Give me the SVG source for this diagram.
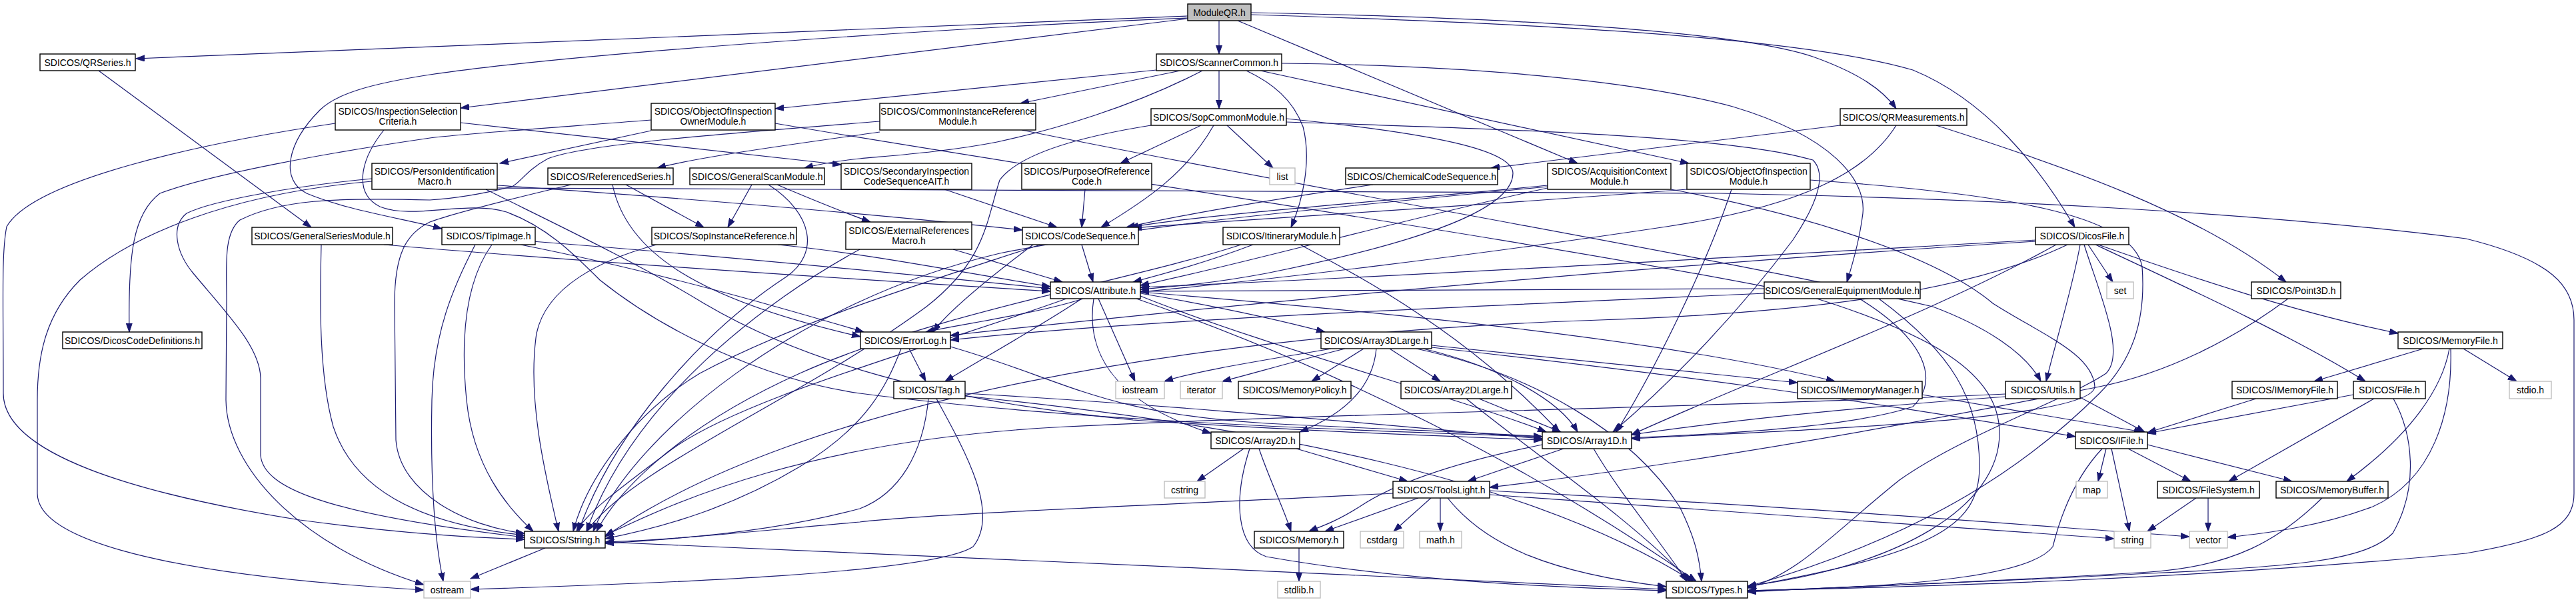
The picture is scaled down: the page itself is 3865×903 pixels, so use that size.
<svg xmlns="http://www.w3.org/2000/svg" width="3865" height="903" viewBox="0 0 3865 903">
<style>
.e path{fill:none;stroke:#191970;stroke-width:1.2;marker-end:url(#a)}
.n rect{fill:#fff;stroke:#000;stroke-width:1.4}
.n.x rect{stroke:#bfbfbf}
.n.r rect{fill:#bfbfbf}
text{font-family:'Liberation Sans Narrow','Liberation Sans',Arial,sans-serif;font-size:14px;text-anchor:middle;fill:#000}
</style>
<defs>
<marker id="a" markerWidth="14" markerHeight="10" refX="13" refY="5" orient="auto" markerUnits="userSpaceOnUse"><path d="M0,0.5 L13,5 L0,9.5 z" fill="#191970" stroke="#191970" stroke-width="1"/></marker>
</defs>
<rect width="3865" height="903" fill="#fff"/>
<g id="edges" class="e">
<path d="M1782,24 L204,88"/>
<path d="M1782,27 C1500,38 900,75 645,112 C560,125 505,140 480,165 C430,215 420,270 460,290 C520,315 600,327 663,343"/>
<path d="M1782,28 L691,162"/>
<path d="M1829,31 L1829,81"/>
<path d="M1857,31 L2367,245"/>
<path d="M1877,19 C2250,26 2600,45 2720,85 C2790,110 2825,135 2845,163"/>
<path d="M1877,22 C2300,35 2700,55 2870,105 C2980,150 3060,250 3113,341"/>
<path d="M148,106 L467,341"/>
<path d="M1735,105 L1163,163"/>
<path d="M1771,106 L1531,155"/>
<path d="M1804,106 C1700,160 1580,195 1496,213 C1420,228 1330,234 1290,238 C1260,241 1230,246 1207,252"/>
<path d="M1829,106 L1829,163"/>
<path d="M1870,106 C1910,125 1940,150 1955,190 C1968,240 1955,300 1937,341"/>
<path d="M1891,106 L2534,245"/>
<path d="M1923,95 C2200,98 2450,120 2600,160 C2750,205 2800,270 2795,320 C2790,360 2780,395 2771,423"/>
<path d="M691,184 L1262,247"/>
<path d="M503,185 C300,215 50,270 10,340 C2,380 5,450 5,590 C5,680 200,740 450,780 C600,800 700,806 787,809"/>
<path d="M576,195 C540,240 530,290 570,310 C620,330 700,300 760,318 C820,340 860,380 900,420 C1000,500 1150,570 1290,590 C1600,630 2000,645 2314,655"/>
<path d="M977,196 L750,245"/>
<path d="M977,180 C850,190 700,200 645,207 C500,228 320,260 240,290 C200,320 192,380 194,498"/>
<path d="M1163,185 C1600,260 2300,360 2700,440 C2900,500 3000,560 3000,650 C3000,760 2850,850 2622,879"/>
<path d="M1320,198 C1200,215 1050,235 986,252"/>
<path d="M1320,182 C1100,200 880,215 822,238 C790,255 780,275 768,280 C720,292 680,298 645,300 C500,296 420,300 360,330 C335,350 340,400 340,450 L339,600 C340,700 450,820 636,877"/>
<path d="M1533,195 C2000,290 2600,390 2900,460 C2980,490 3040,530 3062,572"/>
<path d="M1802,188 L1681,245"/>
<path d="M1821,188 C1780,260 1720,300 1652,341"/>
<path d="M1841,188 L1910,252"/>
<path d="M1727,188 C1620,205 1530,230 1500,270 C1480,330 1480,390 1390,460 C1200,600 950,700 880,797"/>
<path d="M1930,178 C2150,200 2270,225 2270,260 C2270,320 2100,370 1900,410 C1820,425 1760,430 1711,434"/>
<path d="M1930,183 C2300,195 2600,205 2720,240 C2740,260 2730,300 2690,360 C2600,480 2500,580 2420,648"/>
<path d="M2761,188 L2237,252"/>
<path d="M2845,188 C2800,260 2700,310 2500,340 C2200,385 1900,420 1711,438"/>
<path d="M2905,188 C3100,250 3300,320 3430,423"/>
<path d="M558,268 C450,278 320,300 280,320 C255,340 265,380 290,410 C340,470 390,520 391,567 L391,683 C395,730 480,770 787,806"/>
<path d="M746,278 C1000,295 1300,320 1534,345"/>
<path d="M729,284 C800,320 950,390 1056,455 C1200,540 1400,600 1700,630 C2000,650 2200,655 2314,660"/>
<path d="M558,272 C350,290 200,350 120,420 C70,470 56,530 56,600 L56,740 C56,800 200,860 636,885"/>
<path d="M746,282 C1200,286 2000,286 2580,290 C3000,298 3400,320 3700,358 C3830,390 3862,430 3862,480 L3862,740 C3862,790 3820,810 3700,830 C3300,868 2900,880 2622,886"/>
<path d="M939,277 L1056,341"/>
<path d="M857,277 C760,300 680,320 645,333 C610,350 592,380 592,455 L594,660 C600,740 700,790 787,800"/>
<path d="M919,277 C940,380 1050,450 1291,505"/>
<path d="M1128,277 L1092,341"/>
<path d="M1166,277 C1220,300 1270,320 1306,333"/>
<path d="M1153,277 C1220,320 1230,380 1180,415 C1050,500 920,650 868,797"/>
<path d="M1417,284 L1586,341"/>
<path d="M1628,284 L1623,341"/>
<path d="M2060,277 C1900,300 1760,325 1690,341"/>
<path d="M2322,278 C2100,300 1800,322 1695,341"/>
<path d="M2322,282 C2100,330 1850,400 1711,428"/>
<path d="M2322,280 C1900,320 1700,340 1500,380 C1200,450 950,650 890,797"/>
<path d="M2507,284 C2700,320 2900,380 2990,455 C3060,500 3140,530 3143,580 C3140,630 2700,645 2448,658"/>
<path d="M2531,284 C2200,310 1850,330 1700,342"/>
<path d="M2598,284 C2560,400 2480,560 2425,648"/>
<path d="M2716,270 C3000,290 3200,320 3214,400 C3220,480 3200,540 3150,590 C3050,690 2900,800 2622,880"/>
<path d="M482,367 C480,450 478,560 500,640 C530,730 620,785 787,803"/>
<path d="M576,367 C900,395 1300,420 1576,437"/>
<path d="M738,367 C700,420 690,500 700,600 C710,700 760,760 800,797"/>
<path d="M713,367 C680,430 650,500 648,600 C646,700 650,800 665,872"/>
<path d="M773,360 C1100,385 1400,415 1576,433"/>
<path d="M781,367 C1000,410 1200,470 1296,498"/>
<path d="M1167,367 C1300,380 1450,410 1576,430"/>
<path d="M985,367 C900,390 820,430 805,500 C790,600 820,720 838,797"/>
<path d="M1430,374 L1594,423"/>
<path d="M1290,374 C1150,450 950,600 880,797"/>
<path d="M1623,367 L1640,423"/>
<path d="M1561,367 C1400,420 1200,480 1050,560 C950,620 880,720 860,797"/>
<path d="M1550,367 C1480,420 1420,470 1400,498"/>
<path d="M1880,367 C1820,390 1750,410 1700,423"/>
<path d="M1862,367 C1700,420 1400,470 1200,560 C1000,650 920,750 895,797"/>
<path d="M1951,367 C2050,420 2200,500 2340,648"/>
<path d="M3133,367 L3170,423"/>
<path d="M3148,367 C3300,420 3450,470 3598,500"/>
<path d="M3144,367 C3300,440 3450,510 3549,572"/>
<path d="M3121,367 C3110,430 3085,510 3070,572"/>
<path d="M3127,367 C3150,440 3190,530 3160,560 C3100,600 2950,650 2850,720 C2750,800 2700,860 2622,882"/>
<path d="M3054,360 C2700,380 2200,410 1711,431"/>
<path d="M3054,362 C2600,390 2000,440 1426,503"/>
<path d="M3102,367 C2950,440 2700,470 2400,480 C1800,500 1200,600 908,805"/>
<path d="M3085,367 C2900,470 2650,560 2448,652"/>
<path d="M2647,433 L1711,437"/>
<path d="M2647,440 C2200,460 1700,480 1426,510"/>
<path d="M2790,448 C2890,510 2910,570 2870,610 C2780,640 2600,650 2448,657"/>
<path d="M2819,448 C2930,530 2970,600 2970,700 C2970,790 2900,830 2622,880"/>
<path d="M1625,448 C1560,470 1420,490 1389,498"/>
<path d="M1623,448 C1560,490 1470,540 1418,572"/>
<path d="M1648,448 L1703,572"/>
<path d="M1641,448 C1630,520 1660,600 1817,650"/>
<path d="M1711,440 C1800,455 1900,475 1988,498"/>
<path d="M1711,444 C1900,520 2200,600 2320,648"/>
<path d="M1600,448 C1400,520 1100,600 1000,680 C920,740 880,770 865,797"/>
<path d="M1705,448 C2000,550 2300,700 2545,872"/>
<path d="M1711,438 C2100,470 2500,510 2753,572"/>
<path d="M1364,523 L1389,572"/>
<path d="M1352,523 C1330,580 1300,640 1200,700 C1100,760 1000,790 908,808"/>
<path d="M1426,520 C1600,570 1650,620 1900,635 C2100,645 2250,650 2314,655"/>
<path d="M1393,598 C1385,680 1350,740 1290,763 C1150,800 1000,810 908,813"/>
<path d="M1405,598 C1450,680 1500,770 1460,820 C1400,860 1000,875 706,884"/>
<path d="M1448,590 C1800,610 2100,640 2314,658"/>
<path d="M1448,594 C1900,640 2300,720 2540,872"/>
<path d="M2046,523 L1968,572"/>
<path d="M2085,523 L2161,572"/>
<path d="M2065,523 C2060,580 2020,620 1950,648"/>
<path d="M1997,523 C1900,540 1800,555 1747,572"/>
<path d="M2018,523 C1950,540 1880,560 1834,572"/>
<path d="M2135,523 C2250,550 2340,600 2367,648"/>
<path d="M2148,518 L2697,574"/>
<path d="M2148,521 C2500,560 2800,600 3114,655"/>
<path d="M2125,523 C2300,560 2450,650 2520,760 C2545,810 2550,840 2553,872"/>
<path d="M2219,598 L2342,648"/>
<path d="M2200,598 C2300,680 2450,780 2535,872"/>
<path d="M1866,673 L1796,722"/>
<path d="M1889,673 C1905,720 1925,760 1937,797"/>
<path d="M1945,673 L2112,722"/>
<path d="M1875,673 C1850,750 1855,820 1900,835 C2100,870 2300,880 2500,886"/>
<path d="M2346,673 L2202,722"/>
<path d="M2314,667 C2200,690 2100,720 2040,760 C2000,785 1980,790 1964,797"/>
<path d="M2391,673 C2430,740 2490,810 2531,872"/>
<path d="M2147,747 L2091,797"/>
<path d="M2161,747 L2161,797"/>
<path d="M2128,747 L1988,797"/>
<path d="M2172,747 C2230,820 2330,860 2500,880"/>
<path d="M2235,742 C2600,765 2900,790 3172,808"/>
<path d="M2235,736 C2700,760 3000,785 3285,805"/>
<path d="M2090,740 C1800,755 1400,770 1290,783 C1100,800 1000,810 908,815"/>
<path d="M1949,822 L1949,872"/>
<path d="M818,822 L706,868"/>
<path d="M908,813 C1400,835 2000,860 2500,884"/>
<path d="M3433,448 C3350,510 3250,560 3150,580 C2800,650 2500,700 2235,731"/>
<path d="M3121,596 L3218,648"/>
<path d="M3009,591 C2600,610 2000,620 1600,640 C1200,660 1000,760 908,803"/>
<path d="M3009,595 C2800,610 2600,630 2448,652"/>
<path d="M2884,592 L3215,648"/>
<path d="M3531,592 L3222,650"/>
<path d="M3385,598 L3222,649"/>
<path d="M3562,598 L3344,722"/>
<path d="M3591,598 C3620,650 3630,730 3590,800 C3550,840 3450,850 3225,860 C2950,875 2750,880 2622,888"/>
<path d="M3636,523 L3472,572"/>
<path d="M3696,523 L3776,572"/>
<path d="M3675,523 C3665,580 3620,650 3521,722"/>
<path d="M3677,523 C3680,620 3650,720 3560,760 C3480,790 3400,800 3342,806"/>
<path d="M3313,747 L3313,797"/>
<path d="M3295,747 L3222,797"/>
<path d="M3484,747 C3420,810 3350,850 3225,858 C3000,872 2800,880 2622,887"/>
<path d="M3160,673 L3148,722"/>
<path d="M3168,673 L3195,797"/>
<path d="M3154,673 C3110,720 3090,780 3080,820 C3050,860 2900,880 2622,886"/>
<path d="M3193,673 L3287,722"/>
<path d="M3222,667 L3439,722"/>
</g>
<g id="ModuleQR" class="n r"><rect x="1782" y="6" width="95" height="25"/><text x="1829.5" y="23.5">ModuleQR.h</text></g>
<g id="QRSeries" class="n"><rect x="60" y="81" width="143" height="25"/><text x="131.5" y="98.5">SDICOS/QRSeries.h</text></g>
<g id="ScannerCommon" class="n"><rect x="1735" y="81" width="188" height="25"/><text x="1829" y="98.5">SDICOS/ScannerCommon.h</text></g>
<g id="InspectionSelection" class="n"><rect x="503" y="155" width="188" height="40"/><text x="597" y="172">SDICOS/InspectionSelection</text><text x="597" y="187">Criteria.h</text></g>
<g id="OOIOwner" class="n"><rect x="977" y="155" width="186" height="40"/><text x="1070" y="172">SDICOS/ObjectOfInspection</text><text x="1070" y="187">OwnerModule.h</text></g>
<g id="CommonInstanceRef" class="n"><rect x="1320" y="155" width="234" height="40"/><text x="1437" y="172">SDICOS/CommonInstanceReference</text><text x="1437" y="187">Module.h</text></g>
<g id="SopCommon" class="n"><rect x="1727" y="163" width="203" height="25"/><text x="1828.5" y="180.5">SDICOS/SopCommonModule.h</text></g>
<g id="QRMeasurements" class="n"><rect x="2761" y="163" width="190" height="25"/><text x="2856" y="180.5">SDICOS/QRMeasurements.h</text></g>
<g id="PersonIdentification" class="n"><rect x="558" y="245" width="188" height="39"/><text x="652" y="261.5">SDICOS/PersonIdentification</text><text x="652" y="276.5">Macro.h</text></g>
<g id="ReferencedSeries" class="n"><rect x="822" y="252" width="188" height="25"/><text x="916" y="269.5">SDICOS/ReferencedSeries.h</text></g>
<g id="GeneralScan" class="n"><rect x="1035" y="252" width="202" height="25"/><text x="1136" y="269.5">SDICOS/GeneralScanModule.h</text></g>
<g id="SecondaryInspection" class="n"><rect x="1262" y="245" width="196" height="39"/><text x="1360" y="261.5">SDICOS/SecondaryInspection</text><text x="1360" y="276.5">CodeSequenceAIT.h</text></g>
<g id="PurposeOfReference" class="n"><rect x="1533" y="245" width="195" height="39"/><text x="1630.5" y="261.5">SDICOS/PurposeOfReference</text><text x="1630.5" y="276.5">Code.h</text></g>
<g id="list" class="n x"><rect x="1905" y="252" width="38" height="25"/><text x="1924" y="269.5">list</text></g>
<g id="ChemicalCodeSequence" class="n"><rect x="2019" y="252" width="228" height="25"/><text x="2133" y="269.5">SDICOS/ChemicalCodeSequence.h</text></g>
<g id="AcquisitionContext" class="n"><rect x="2322" y="245" width="185" height="39"/><text x="2414.5" y="261.5">SDICOS/AcquisitionContext</text><text x="2414.5" y="276.5">Module.h</text></g>
<g id="OOIModule" class="n"><rect x="2531" y="245" width="185" height="39"/><text x="2623.5" y="261.5">SDICOS/ObjectOfInspection</text><text x="2623.5" y="276.5">Module.h</text></g>
<g id="GeneralSeries" class="n"><rect x="378" y="341" width="211" height="26"/><text x="483.5" y="359">SDICOS/GeneralSeriesModule.h</text></g>
<g id="TipImage" class="n"><rect x="663" y="341" width="140" height="26"/><text x="733" y="359">SDICOS/TipImage.h</text></g>
<g id="SopInstanceRef" class="n"><rect x="978" y="341" width="217" height="26"/><text x="1086.5" y="359">SDICOS/SopInstanceReference.h</text></g>
<g id="ExternalReferences" class="n"><rect x="1269" y="333" width="189" height="41"/><text x="1363.5" y="350.5">SDICOS/ExternalReferences</text><text x="1363.5" y="365.5">Macro.h</text></g>
<g id="CodeSequence" class="n"><rect x="1534" y="341" width="174" height="26"/><text x="1621" y="359">SDICOS/CodeSequence.h</text></g>
<g id="Itinerary" class="n"><rect x="1835" y="341" width="175" height="26"/><text x="1922.5" y="359">SDICOS/ItineraryModule.h</text></g>
<g id="DicosFile" class="n"><rect x="3054" y="341" width="140" height="26"/><text x="3124" y="359">SDICOS/DicosFile.h</text></g>
<g id="Attribute" class="n"><rect x="1576" y="423" width="135" height="25"/><text x="1643.5" y="440.5">SDICOS/Attribute.h</text></g>
<g id="GeneralEquipment" class="n"><rect x="2647" y="423" width="234" height="25"/><text x="2764" y="440.5">SDICOS/GeneralEquipmentModule.h</text></g>
<g id="set" class="n x"><rect x="3161" y="423" width="40" height="25"/><text x="3181" y="440.5">set</text></g>
<g id="Point3D" class="n"><rect x="3378" y="423" width="134" height="25"/><text x="3445" y="440.5">SDICOS/Point3D.h</text></g>
<g id="DicosCodeDefinitions" class="n"><rect x="94" y="498" width="209" height="25"/><text x="198.5" y="515.5">SDICOS/DicosCodeDefinitions.h</text></g>
<g id="ErrorLog" class="n"><rect x="1291" y="498" width="135" height="25"/><text x="1358.5" y="515.5">SDICOS/ErrorLog.h</text></g>
<g id="Array3DLarge" class="n"><rect x="1982" y="498" width="166" height="25"/><text x="2065" y="515.5">SDICOS/Array3DLarge.h</text></g>
<g id="MemoryFile" class="n"><rect x="3598" y="498" width="157" height="25"/><text x="3676.5" y="515.5">SDICOS/MemoryFile.h</text></g>
<g id="Tag" class="n"><rect x="1341" y="572" width="107" height="26"/><text x="1394.5" y="590">SDICOS/Tag.h</text></g>
<g id="iostream" class="n x"><rect x="1674" y="572" width="73" height="26"/><text x="1710.5" y="590">iostream</text></g>
<g id="iterator" class="n x"><rect x="1771" y="572" width="63" height="26"/><text x="1802.5" y="590">iterator</text></g>
<g id="MemoryPolicy" class="n"><rect x="1858" y="572" width="169" height="26"/><text x="1942.5" y="590">SDICOS/MemoryPolicy.h</text></g>
<g id="Array2DLarge" class="n"><rect x="2102" y="572" width="166" height="26"/><text x="2185" y="590">SDICOS/Array2DLarge.h</text></g>
<g id="IMemoryManager" class="n"><rect x="2697" y="572" width="187" height="26"/><text x="2790.5" y="590">SDICOS/IMemoryManager.h</text></g>
<g id="Utils" class="n"><rect x="3009" y="572" width="112" height="26"/><text x="3065" y="590">SDICOS/Utils.h</text></g>
<g id="IMemoryFile" class="n"><rect x="3349" y="572" width="158" height="26"/><text x="3428" y="590">SDICOS/IMemoryFile.h</text></g>
<g id="File" class="n"><rect x="3531" y="572" width="108" height="26"/><text x="3585" y="590">SDICOS/File.h</text></g>
<g id="stdio" class="n x"><rect x="3765" y="572" width="63" height="26"/><text x="3796.5" y="590">stdio.h</text></g>
<g id="Array2D" class="n"><rect x="1817" y="648" width="133" height="25"/><text x="1883.5" y="665.5">SDICOS/Array2D.h</text></g>
<g id="Array1D" class="n"><rect x="2314" y="648" width="134" height="25"/><text x="2381" y="665.5">SDICOS/Array1D.h</text></g>
<g id="IFile" class="n"><rect x="3114" y="648" width="108" height="25"/><text x="3168" y="665.5">SDICOS/IFile.h</text></g>
<g id="cstring" class="n x"><rect x="1747" y="722" width="61" height="25"/><text x="1777.5" y="739.5">cstring</text></g>
<g id="ToolsLight" class="n"><rect x="2090" y="722" width="145" height="25"/><text x="2162.5" y="739.5">SDICOS/ToolsLight.h</text></g>
<g id="map" class="n x"><rect x="3115" y="722" width="47" height="25"/><text x="3138.5" y="739.5">map</text></g>
<g id="FileSystem" class="n"><rect x="3237" y="722" width="153" height="25"/><text x="3313.5" y="739.5">SDICOS/FileSystem.h</text></g>
<g id="MemoryBuffer" class="n"><rect x="3415" y="722" width="168" height="25"/><text x="3499" y="739.5">SDICOS/MemoryBuffer.h</text></g>
<g id="String" class="n"><rect x="787" y="797" width="121" height="25"/><text x="847.5" y="814.5">SDICOS/String.h</text></g>
<g id="Memory" class="n"><rect x="1882" y="797" width="134" height="25"/><text x="1949" y="814.5">SDICOS/Memory.h</text></g>
<g id="cstdarg" class="n x"><rect x="2041" y="797" width="65" height="25"/><text x="2073.5" y="814.5">cstdarg</text></g>
<g id="math" class="n x"><rect x="2130" y="797" width="63" height="25"/><text x="2161.5" y="814.5">math.h</text></g>
<g id="string" class="n x"><rect x="3172" y="797" width="55" height="25"/><text x="3199.5" y="814.5">string</text></g>
<g id="vector" class="n x"><rect x="3285" y="797" width="57" height="25"/><text x="3313.5" y="814.5">vector</text></g>
<g id="ostream" class="n x"><rect x="636" y="872" width="70" height="25"/><text x="671" y="889.5">ostream</text></g>
<g id="stdlib" class="n x"><rect x="1917" y="872" width="64" height="25"/><text x="1949" y="889.5">stdlib.h</text></g>
<g id="Types" class="n"><rect x="2500" y="872" width="122" height="25"/><text x="2561" y="889.5">SDICOS/Types.h</text></g>
</svg>
